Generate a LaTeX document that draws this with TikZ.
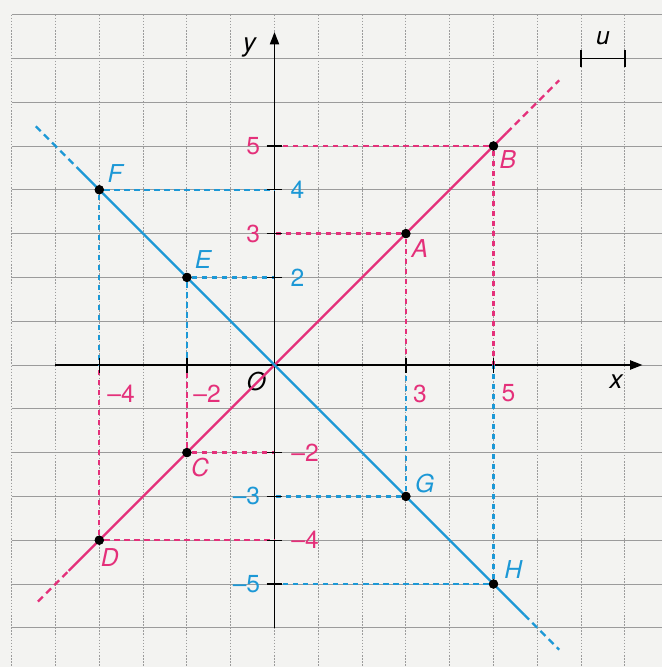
\documentclass[tikz,border=0pt]{standalone}
\usepackage{fontspec}
\setmainfont{TeX Gyre Heros}
\usetikzlibrary{arrows.meta}
\definecolor{pk}{RGB}{228,48,122}
\definecolor{bl}{RGB}{28,152,214}
\definecolor{bgc}{RGB}{243,243,241}
\definecolor{grc}{RGB}{155,155,155}
\begin{document}
\begin{tikzpicture}[x=1cm,y=1cm,
  lab/.style={font=\fontsize{16}{18}\selectfont, inner sep=0pt},
  ptlab/.style={font=\fontsize{16}{18}\selectfont\itshape, inner sep=0pt},
  proj/.style={dash pattern=on 3.5pt off 3pt, line width=1.5pt},
  ext/.style={dash pattern=on 4.5pt off 3pt, line width=1.6pt},
  curve/.style={line width=1.6pt},
  tickmark/.style={line width=0.9pt, black},
  dot/.style={circle, fill=black, inner sep=0pt, minimum size=6pt},
  gridh/.style={grc, line width=0.6pt},
  gridv/.style={grc, line width=0.6pt, dash pattern=on 1pt off 1pt}]
% background
\fill[bgc] (-6.267,-6.895) rectangle (8.847,8.333);
\useasboundingbox (-6.267,-6.895) rectangle (8.847,8.333);
% grid
\foreach \y in {-6,...,8} \draw[gridh] (-6,\y) -- (8.847,\y);
\foreach \x in {-6,...,8} \draw[gridv] (\x,8) -- (\x,-6.895);
% axes
\coordinate (xs) at (-5,0);
\coordinate (xe) at (8.4,0);
\coordinate (ys) at (0,-6);
\coordinate (ye) at (0,7.6);
\draw[line width=0.9pt, -{Triangle[length=8pt,width=6pt]}] (xs) -- (xe);
\draw[line width=0.9pt, -{Triangle[length=8pt,width=6pt]}] (ys) -- (ye);
\node[font=\fontsize{17}{19}\selectfont\itshape] (xl) at (7.8,-0.37) {x};
\node[font=\fontsize{17}{19}\selectfont\itshape] (yl) at (-0.57,7.25) {y};
\node[ptlab] (O) at (-0.42,-0.38) {O};
% axis coordinates
\foreach \v in {5,4,3,2,-2,-3,-4,-5} \coordinate (y\v) at (0,\v);
\foreach \v in {-4,-2,3,5} \coordinate (x\v) at (\v,0);
% points
\node[dot] (A) at (3,3) {};
\node[dot] (B) at (5,5) {};
\node[dot] (C) at (-2,-2) {};
\node[dot] (D) at (-4,-4) {};
\node[dot] (E) at (-2,2) {};
\node[dot] (F) at (-4,4) {};
\node[dot] (G) at (3,-3) {};
\node[dot] (H) at (5,-5) {};
% projections pink
\draw[pk, proj] (B) -- (y5);
\draw[pk, proj] (B) -- (x5);
\draw[pk, proj] (A) -- (y3);
\draw[pk, proj] (A) -- (x3);
\draw[pk, proj] (C) -- (y-2);
\draw[pk, proj] (C) -- (x-2);
\draw[pk, proj] (D) -- (y-4);
\draw[pk, proj] (D) -- (x-4);
% projections blue
\draw[bl, proj] (F) -- (y4);
\draw[bl, proj] (F) -- (x-4);
\draw[bl, proj] (E) -- (y2);
\draw[bl, proj] (E) -- (x-2);
\draw[bl, proj] (G) -- (y-3);
\draw[bl, proj] (G) -- (x3);
\draw[bl, proj] (H) -- (y-5);
\draw[bl, proj] (H) -- (x5);
% lines
\coordinate (p0) at (-5.4,-5.4);
\coordinate (p1) at (-4.7,-4.7);
\coordinate (p2) at (5.3,5.3);
\coordinate (p3) at (6.5,6.5);
\coordinate (b0) at (-5.45,5.45);
\coordinate (b1) at (-4.5,4.5);
\coordinate (b2) at (5.7,-5.7);
\coordinate (b3) at (6.5,-6.5);
\draw[pk, ext] (p0) -- (p1);
\draw[pk, curve] (p1) -- (p2);
\draw[pk, ext] (p2) -- (p3);
\draw[bl, ext] (b0) -- (b1);
\draw[bl, curve] (b1) -- (b2);
\draw[bl, ext] (b2) -- (b3);
% dots on top
\foreach \p in {A,B,C,D,E,F,G,H} \fill (\p) circle (3pt);
% ticks
\foreach \v in {5,4,3,2,-2,-3,-4,-5} \draw[tickmark] (-0.18,\v) -- (0.18,\v);
\foreach \v in {-4,-2,3,5} \draw[tickmark] (\v,0.16) -- (\v,-0.18);
% y tick labels
\node[lab, pk, anchor=east] (l5) at (-0.32,5) {5};
\node[lab, bl, anchor=west] (l4) at (0.36,4) {4};
\node[lab, pk, anchor=east] (l3) at (-0.32,3) {3};
\node[lab, bl, anchor=west] (l2) at (0.36,2) {2};
\node[lab, pk, anchor=west] (lm2) at (0.38,-2) {\textendash 2};
\node[lab, bl, anchor=east] (lm3) at (-0.32,-3) {\textendash 3};
\node[lab, pk, anchor=west] (lm4) at (0.38,-4) {\textendash 4};
\node[lab, bl, anchor=east] (lm5) at (-0.32,-5) {\textendash 5};
% x tick labels
\node[lab, pk, anchor=north west] (xm4) at (-3.82,-0.44) {\textendash 4};
\node[lab, pk, anchor=north west] (xm2) at (-1.86,-0.44) {\textendash 2};
\node[lab, pk, anchor=north west] (x3l) at (3.16,-0.44) {3};
\node[lab, pk, anchor=north west] (x5l) at (5.18,-0.44) {5};
% point labels
\node[ptlab, pk] (Al) at (3.32,2.67) {A};
\node[ptlab, pk] (Bl) at (5.33,4.68) {B};
\node[ptlab, pk] (Cl) at (-1.7,-2.35) {C};
\node[ptlab, pk] (Dl) at (-3.76,-4.4) {D};
\node[ptlab, bl] (El) at (-1.63,2.4) {E};
\node[ptlab, bl] (Fl) at (-3.64,4.38) {F};
\node[ptlab, bl] (Gl) at (3.43,-2.7) {G};
\node[ptlab, bl] (Hl) at (5.45,-4.68) {H};
% unit bar
\coordinate (u0) at (7,7);
\coordinate (u1) at (8,7);
\draw[line width=0.9pt] (u0) -- (u1);
\draw[line width=0.9pt] (7,6.8) -- (7,7.2);
\draw[line width=0.9pt] (8,6.8) -- (8,7.2);
\node[ptlab] (ul) at (7.5,7.47) {u};
\end{tikzpicture}
\end{document}
